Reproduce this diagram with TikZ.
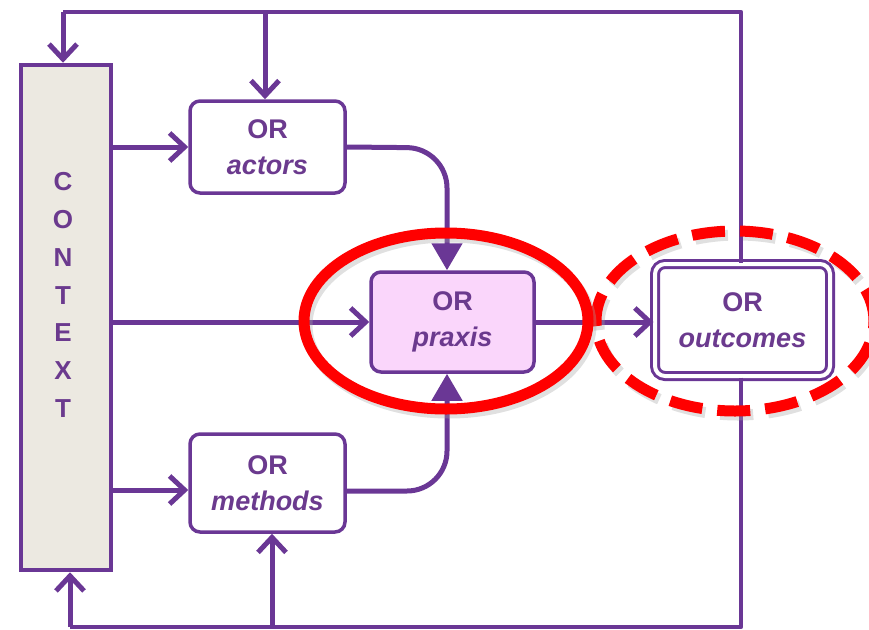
\documentclass[tikz,border=0pt]{standalone}
\usepackage{fontspec}
\setmainfont{Liberation Sans}
\usetikzlibrary{arrows.meta,shapes.geometric}
\definecolor{pur}{HTML}{6A3795}
\definecolor{purtext}{HTML}{6B3A8E}
\definecolor{praxfill}{HTML}{FAD6FB}
\definecolor{ctxfill}{HTML}{ECE9E1}
\definecolor{redc}{HTML}{FF0000}
\tikzset{
  conn/.style={draw=pur, line width=5pt},
  barb/.style={-{Straight Barb[length=15pt,width=28pt,line width=5pt]}},
  tri/.style={-{Triangle[length=27pt,width=30pt]}},
  orbox/.style={draw=pur, line width=3.5pt, rounded corners=10pt, fill=white,
    text=purtext, font=\fontsize{27pt}{36pt}\selectfont\bfseries, align=center,
    inner sep=0pt},
  redell/.style={draw=redc, line width=11pt},
  shadowell/.style={draw=black!35, line width=11pt, opacity=0.35},
}
\begin{document}
\begin{tikzpicture}[x=1pt,y=-1pt]
\useasboundingbox (0,0) rectangle (869,629);
% nodes
\node[draw=pur, line width=4.5pt, fill=ctxfill, minimum width=90pt, minimum height=505pt, inner sep=0pt] (ctx) at (66,317.5) {};
\node[text=purtext, font=\fontsize{26pt}{37.7pt}\selectfont\bfseries, align=center] (ctxlbl) at (63,295) {C\\O\\N\\T\\E\\X\\T};
\node[orbox, minimum width=155pt, minimum height=92pt] (act) at (267.5,147) {OR\\\textit{actors}};
\node[orbox, minimum width=155pt, minimum height=98pt] (meth) at (267.5,483) {OR\\\textit{methods}};
\node[orbox, fill=praxfill, minimum width=163pt, minimum height=100pt] (prax) at (452.5,322) {OR\\\textit{praxis}};
\node[orbox, line width=3pt, double=white, double distance=4pt, minimum width=175pt, minimum height=112pt] (out) at (742.5,320) {OR\\\textit{outcomes}};
% coordinates
\coordinate (tl) at (63,12);
\coordinate (tr) at (741,12);
\coordinate (ta) at (265,12);
\coordinate (bl) at (70,627);
\coordinate (br) at (741,627);
\coordinate (bm) at (272,627);
% connectors
\draw[conn, line width=4.5pt, line join=round] (out.north -| tr) -- (tr) -- (tl);
\draw[conn, barb] (tl) -- (ctx.north -| tl);
\draw[conn, barb] (ta) -- (act.north -| ta);
\draw[conn, line width=4.5pt, line join=round] (out.south -| br) -- (br) -- (bl);
\draw[conn, barb] (bl) -- (ctx.south -| bl);
\draw[conn, barb] (bm) -- (meth.south -| bm);
\draw[conn, barb] (ctx.east |- act.west) -- (act.west);
\draw[conn, barb] (ctx.east |- meth.west) ++(0,7) coordinate (m0) -- (meth.west |- m0);
\draw[conn, barb] (ctx.east |- prax.west) -- (prax.west);
\draw[conn, barb] (prax.east) -- (out.west |- prax.east);
\draw[conn, tri, rounded corners=40pt] (act.east) -- (447,148) -- (prax.north -| 447,0);
\draw[conn, tri, rounded corners=40pt] (meth.east) ++(0,8) coordinate (m1) -- (447,491) -- (prax.south -| 447,0);
% red ellipses
\draw[shadowell, dash pattern=on 33pt off 15pt] (738,325) ellipse [x radius=139pt, y radius=90pt];
\draw[redell, dash pattern=on 33pt off 15pt] (735,321) ellipse [x radius=139pt, y radius=90pt];
\draw[shadowell] (449,325) ellipse [x radius=142pt, y radius=88pt];
\draw[redell] (446,321) ellipse [x radius=142pt, y radius=88pt];
\end{tikzpicture}
\end{document}
